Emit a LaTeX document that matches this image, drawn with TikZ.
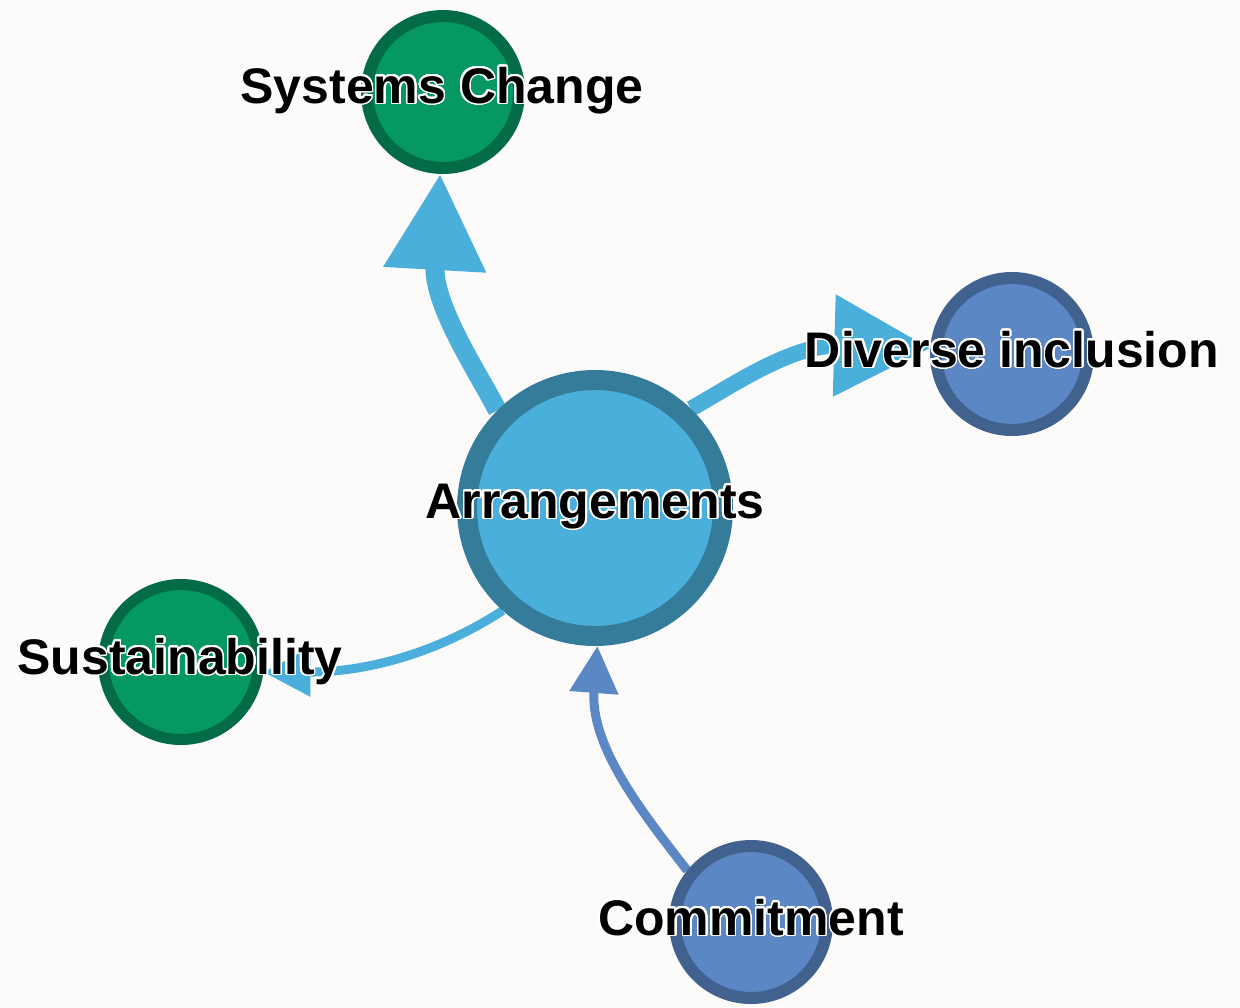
\documentclass[tikz,border=0pt]{standalone}
\usepackage{fontspec}
\setmainfont{Liberation Sans}
\usepackage[copies]{contour}
\contourlength{1.6pt}
\contournumber{32}
\usetikzlibrary{arrows.meta}
\definecolor{bg}{HTML}{FCFBFA}
\definecolor{grfill}{HTML}{059862}
\definecolor{grline}{HTML}{036B45}
\definecolor{blfill}{HTML}{5B88C5}
\definecolor{blline}{HTML}{41618E}
\definecolor{skfill}{HTML}{4BAFDC}
\definecolor{skline}{HTML}{357B9A}
\begin{document}
\begin{tikzpicture}[x=1pt,y=-1pt,
  ball/.style={circle,draw,inner sep=0pt},
  greenball/.style={ball,fill=grfill,draw=grline,line width=12pt,minimum size=152pt},
  blueball/.style={ball,fill=blfill,draw=blline,line width=12pt,minimum size=152pt},
  skyball/.style={ball,fill=skfill,draw=skline,line width=20pt,minimum size=256pt},
  lbl/.style={anchor=base,inner sep=0pt,text=black,font=\bfseries\fontsize{50}{50}\selectfont},
  bigedge/.style={draw=skfill,line width=18pt,-{Triangle[length=96pt,width=98pt]}},
  smalledge/.style={line width=9pt,-{Triangle[length=47pt,width=47pt]}}]
\fill[bg] (0,0) rectangle (1240,1007);
\useasboundingbox (0,0) rectangle (1240,1007);
% node positions (invisible, for anchors)
\node[greenball,draw=none,fill=none] (sc) at (443,92) {};
\node[blueball,draw=none,fill=none] (di) at (1012,354) {};
\node[skyball,draw=none,fill=none] (arr) at (595,508) {};
\node[greenball,draw=none,fill=none,minimum size=155pt,line width=11pt] (sus) at (181,662) {};
\node[blueball,draw=none,fill=none] (com) at (751,922) {};
% edges
\path[bigedge,line width=19pt] (arr.135) .. controls (479,374) and (432.7,305.5) .. (sc.-92);
\path[bigedge,line width=16pt] (arr.46) .. controls (730,387) and (791.5,344.3) .. (di.176);
\path[smalledge,draw=skfill] (arr.228) .. controls (450,645) and (380,672) .. (sus.-7);
\path[smalledge,draw=blfill] (com.141) .. controls (640,810) and (590,745) .. (arr.271);
% circles over edges
\node[greenball] (csc) at (sc) {};
\node[blueball] (cdi) at (di) {};
\node[skyball] (carr) at (arr) {};
\node[greenball,minimum size=155pt,line width=11pt] (csus) at (sus) {};
\node[blueball] (ccom) at (com) {};
% labels
\node[lbl] (tsc) at (442,103) {\contour{white}{Systems Change}};
\node[lbl] (tdi) at (1012,367) {\contour{white}{Diverse inclusion}};
\node[lbl] (tarr) at (595,518) {\contour{white}{Arrangements}};
\node[lbl] (tsus) at (180,674) {\contour{white}{Sustainability}};
\node[lbl] (tcom) at (751,935) {\contour{white}{Commitment}};
\end{tikzpicture}
\end{document}
